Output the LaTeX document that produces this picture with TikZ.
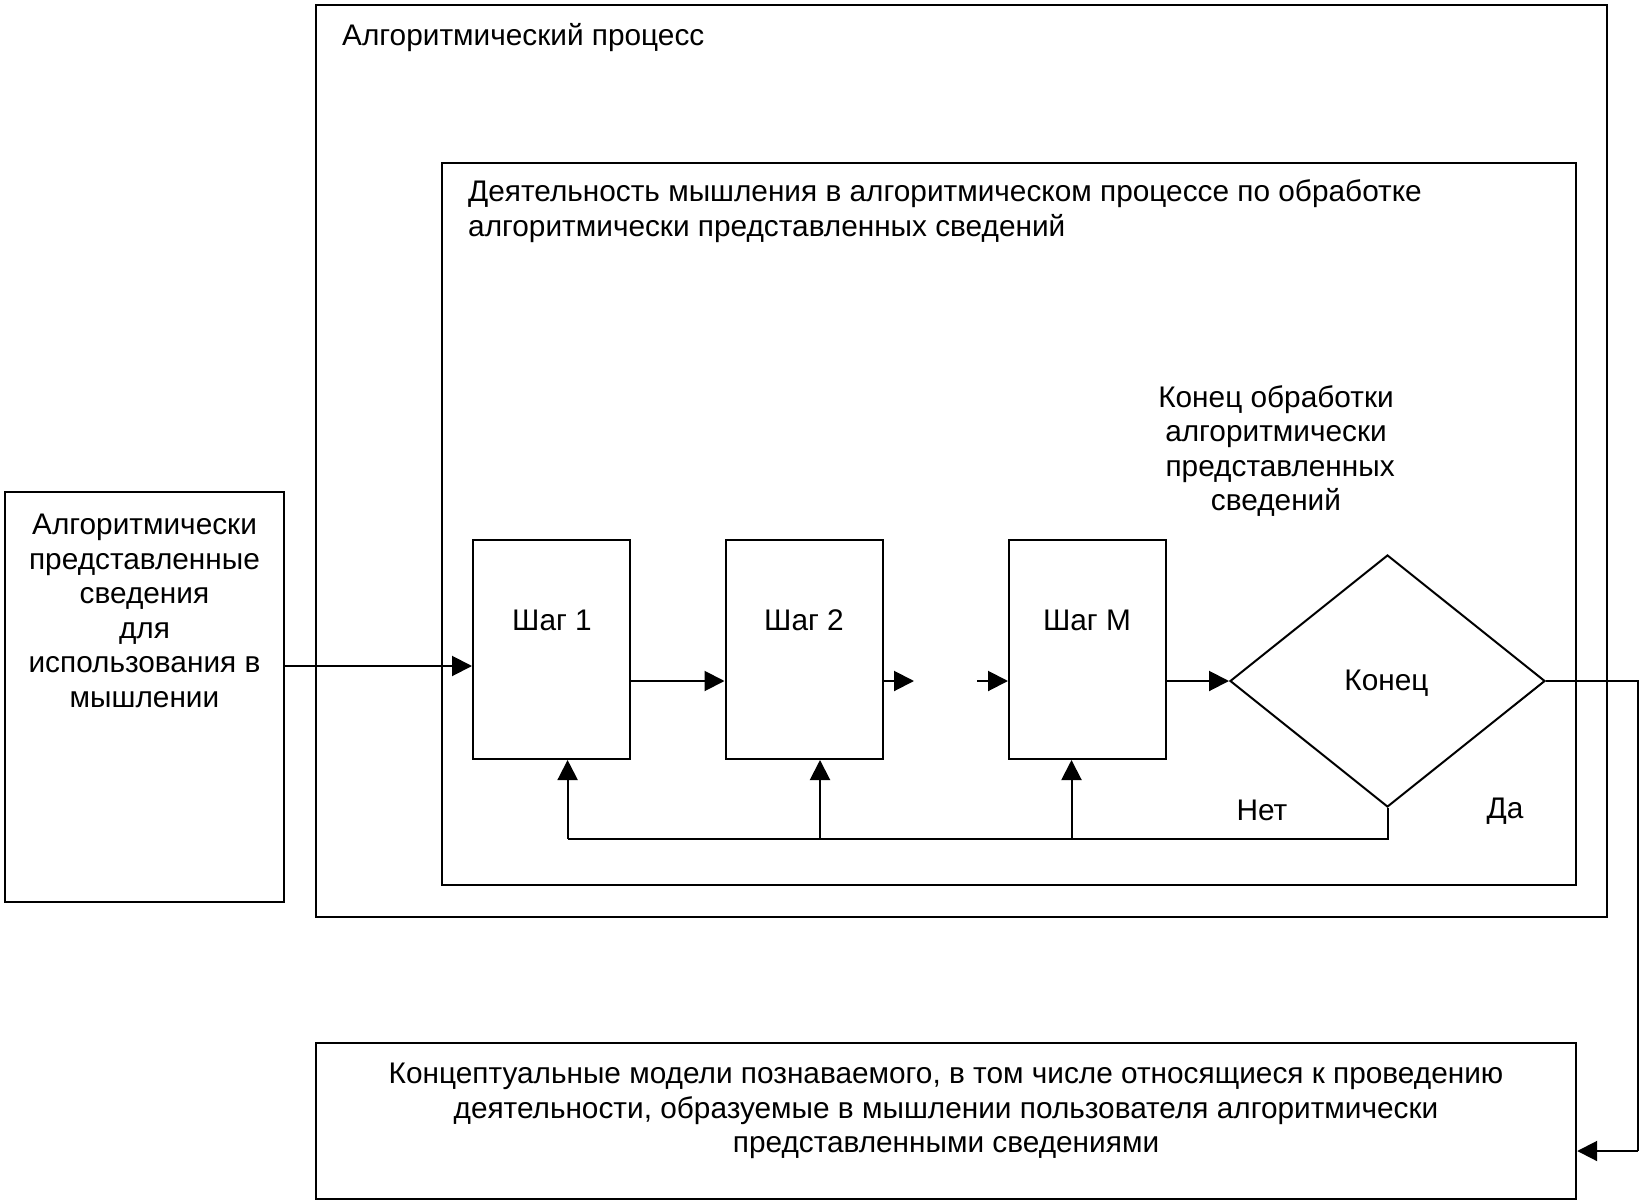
\documentclass[tikz,border=0pt]{standalone}
\usepackage{fontspec}
\setmainfont{Liberation Sans}
\usetikzlibrary{arrows.meta,shapes.geometric}
\begin{document}
\begin{tikzpicture}[x=1pt,y=-1pt,
  box/.style={draw,line width=2.4pt,inner sep=0pt},
  stepbox/.style={draw,line width=2pt,inner sep=0pt,minimum width=157pt,minimum height=219pt},
  txt/.style={inner sep=0pt,font=\fontsize{29.8}{34.5}\selectfont},
  conn/.style={line width=2pt},
  arr/.style={line width=2pt,-{Triangle[length=20pt,width=20pt]}}]
\useasboundingbox (0,0) rectangle (1642,1204);
% containers
\node[box,minimum width=1291pt,minimum height=912pt] (outer) at (961.5,461) {};
\node[box,minimum width=1134pt,minimum height=722pt] (inner) at (1009,524) {};
\node[box,minimum width=279pt,minimum height=410pt] (left) at (144.5,697) {};
\node[box,minimum width=1260pt,minimum height=156pt] (bottom) at (946,1121) {};
% titles
\node[txt,anchor=west] (outert) at (342,38) {Алгоритмический процесс};
\node[txt,anchor=west,align=left] (innert) at (468,211) {Деятельность мышления в алгоритмическом процессе по обработке\\алгоритмически представленных сведений};
\node[txt,align=center] (leftt) at (144.5,611) {Алгоритмически\\представленные\\сведения\\для\\использования в\\мышлении};
\node[txt,align=center] (bottomt) at (946,1111) {Концептуальные модели познаваемого, в том числе относящиеся к проведению\\деятельности, образуемые в мышлении пользователя алгоритмически\\представленными сведениями};
\node[txt,align=center] (endt) at (1276,451) {Конец обработки\\алгоритмически\\\ представленных\\сведений};
% steps
\node[stepbox] (s1) at (551.5,649.5) {};
\node[stepbox] (s2) at (804,649.5) {};
\node[stepbox] (sm) at (1087.5,649.5) {};
\node[txt] (s1t) at (552,620) {Шаг 1};
\node[txt] (s2t) at (804,620) {Шаг 2};
\node[txt] (smt) at (1087,620) {Шаг М};
\node[draw,diamond,line width=2pt,inner sep=0pt,minimum width=315pt,minimum height=252pt] (d) at (1387.5,681) {};
\node[txt] (dt) at (1386.5,683) {Конец};
\node[txt] (net) at (1262,810) {Нет};
\node[txt] (da) at (1505,811) {Да};
% coordinates
\coordinate (gapa) at (914,681);
\coordinate (gapb) at (977,681);
\coordinate (fb1) at (567.6,839);
\coordinate (fb2) at (820,839);
\coordinate (fb3) at (1071.5,839);
\coordinate (rt) at (1638,681);
\coordinate (rb) at (1638,1151);
% connectors
\draw[arr] (left.east |- 0,666) -- (s1.west |- 0,666);
\draw[arr] (s1.east |- 0,681) -- (s2.west |- 0,681);
\draw[arr] (s2.east |- gapa) -- (gapa);
\draw[arr] (gapb) -- (sm.west |- gapb);
\draw[arr] (sm.east |- 0,681) -- (d.west);
\draw[conn] (d.south) -- (d.south |- fb1) -- (fb1);
\draw[arr] (fb1) -- (fb1 |- s1.south);
\draw[arr] (fb2) -- (fb2 |- s2.south);
\draw[arr] (fb3) -- (fb3 |- sm.south);
\draw[conn] (d.east) -- (rt) -- (rb);
\draw[arr] (rb) -- (bottom.east |- rb);
\end{tikzpicture}
\end{document}
